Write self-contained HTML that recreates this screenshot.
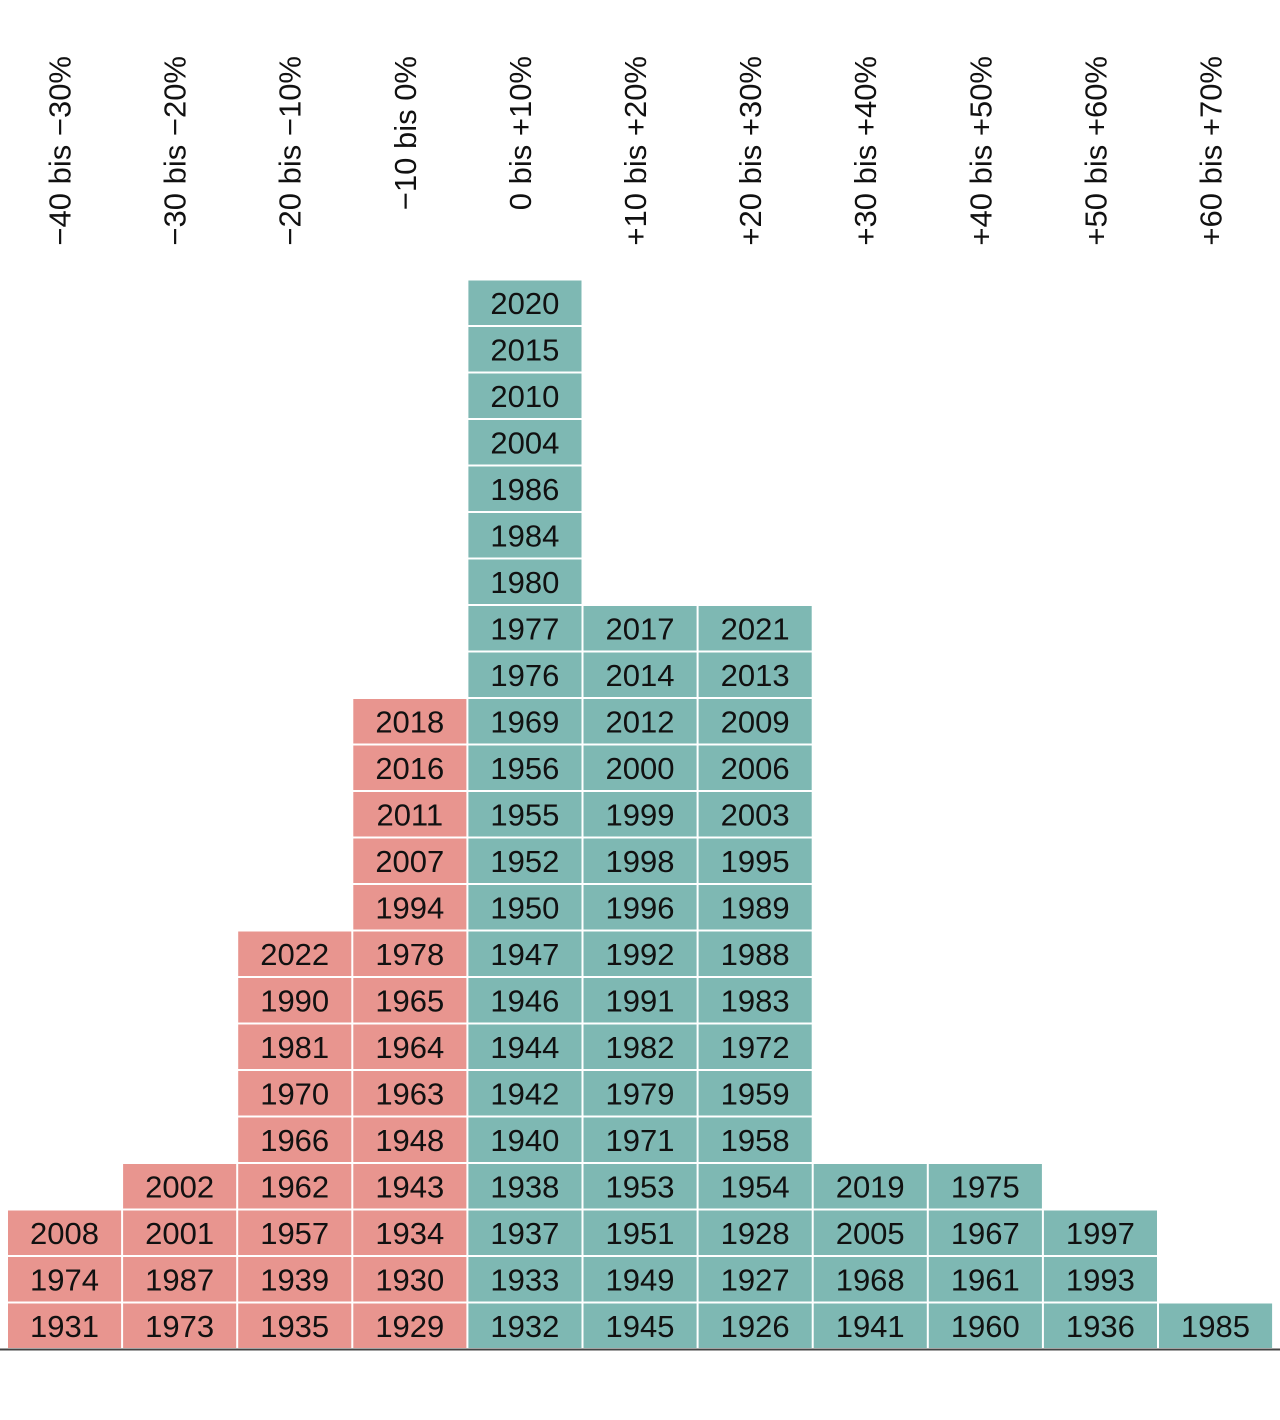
<!DOCTYPE html>
<html><head><meta charset="utf-8"><style>
html,body{margin:0;padding:0;background:#fff;}
svg{display:block;font-family:"Liberation Sans",sans-serif;}
</style></head><body>
<svg id="chart" width="1280" height="1420" viewBox="0 0 1280 1420"></svg>
<script>
const categories = ["−40 bis −30%","−30 bis −20%","−20 bis −10%","−10 bis 0%","0 bis +10%","+10 bis +20%","+20 bis +30%","+30 bis +40%","+40 bis +50%","+50 bis +60%","+60 bis +70%"];
const negative = [true,true,true,true,false,false,false,false,false,false,false];
const years0 = [1931,1974,2008];
const years1 = [1973,1987,2001,2002];
const years2 = [1935,1939,1957,1962,1966,1970,1981,1990,2022];
const years3 = [1929,1930,1934,1943,1948,1963,1964,1965,1978,1994,2007,2011,2016,2018];
const years4 = [1932,1933,1937,1938,1940,1942,1944,1946,1947,1950,1952,1955,1956,1969,1976,1977,1980,1984,1986,2004,2010,2015,2020];
const years5 = [1945,1949,1951,1953,1971,1979,1982,1991,1992,1996,1998,1999,2000,2012,2014,2017];
const years6 = [1926,1927,1928,1954,1958,1959,1972,1983,1988,1989,1995,2003,2006,2009,2013,2021];
const years7 = [1941,1968,2005,2019];
const years8 = [1960,1961,1967,1975];
const years9 = [1936,1993,1997];
const years10 = [1985];
const columns = [years0,years1,years2,years3,years4,years5,years6,years7,years8,years9,years10];

const NS = "http://www.w3.org/2000/svg";
const svg = document.getElementById("chart");
const x0 = 7, pitch = 115.1, baseY = 1349, rowH = 46.5;
const xPos = i => x0 + i * pitch;
const yPos = k => baseY - (k + 1) * rowH;

categories.forEach((c, i) => {
  const t = document.createElementNS(NS, "text");
  const cx = xPos(i) + 57.5;
  t.setAttribute("transform", `translate(${cx + 6},56) rotate(-90)`);
  t.setAttribute("text-anchor", "end");
  t.setAttribute("font-size", "31");
  t.setAttribute("fill", "#111");
  t.textContent = c;
  
  
  svg.appendChild(t);
});

columns.forEach((col, i) => {
  col.forEach((yr, k) => {
    const g = document.createElementNS(NS, "g");
    
    
    const r = document.createElementNS(NS, "rect");
    r.setAttribute("x", xPos(i) + 1);
    r.setAttribute("y", yPos(k) + 1);
    r.setAttribute("width", pitch - 2);
    r.setAttribute("height", rowH - 2);
    r.setAttribute("fill", negative[i] ? "#e8958f" : "#7eb8b3");
    g.appendChild(r);
    const t = document.createElementNS(NS, "text");
    t.setAttribute("x", xPos(i) + 57.5);
    t.setAttribute("y", yPos(k) + rowH / 2 + 11);
    t.setAttribute("text-anchor", "middle");
    t.setAttribute("font-size", "31");
    t.setAttribute("fill", "#111");
    t.textContent = yr;
    g.appendChild(t);
    svg.appendChild(g);
  });
});

const axis = document.createElementNS(NS, "line");
axis.setAttribute("x1", 0); axis.setAttribute("x2", 1280);
axis.setAttribute("y1", baseY + 0.5); axis.setAttribute("y2", baseY + 0.5);
axis.setAttribute("stroke", "#444"); axis.setAttribute("stroke-width", "2");


svg.appendChild(axis);
</script>
</body></html>
